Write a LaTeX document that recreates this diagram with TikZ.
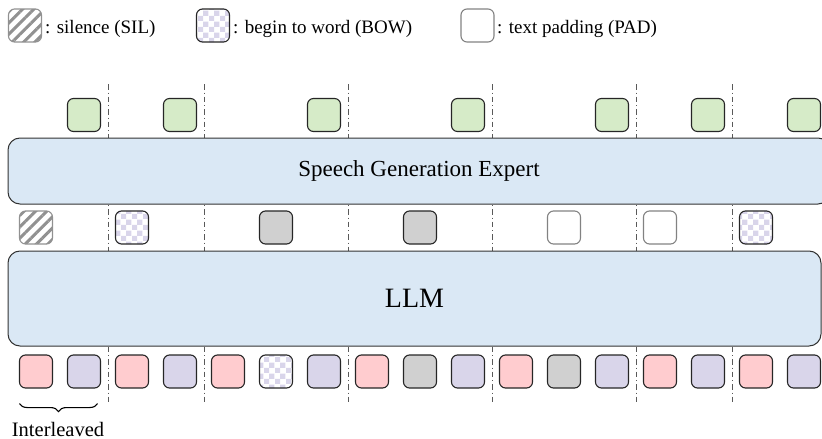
\documentclass[tikz,border=0pt]{standalone}
\usepackage{fontspec}
\setmainfont{Liberation Serif}
\usetikzlibrary{patterns.meta,decorations.pathreplacing}

\definecolor{llmblue}{RGB}{218,232,245}
\definecolor{tokpink}{RGB}{255,204,207}
\definecolor{tokpurple}{RGB}{217,213,234}
\definecolor{tokgray}{RGB}{208,208,208}
\definecolor{tokgreen}{RGB}{214,235,200}
\definecolor{silgray}{RGB}{145,145,145}
\definecolor{padgray}{RGB}{130,130,130}

\tikzdeclarepattern{
  name=bowcheck,
  type=uncolored,
  bounding box={(0pt,0pt) and (11pt,11pt)},
  tile size={(11pt,11pt)},
  code={
    \fill (0pt,0pt) rectangle (5.5pt,5.5pt);
    \fill (5.5pt,5.5pt) rectangle (11pt,11pt);
  }
}

\begin{document}
\begin{tikzpicture}[x=1pt,y=-1pt,
  tok/.style={draw=black!85, line width=1.1pt, rounded corners=6pt, minimum width=33pt, minimum height=33pt, inner sep=0pt},
  pinktok/.style={tok, fill=tokpink},
  purpletok/.style={tok, fill=tokpurple},
  graytok/.style={tok, fill=tokgray},
  greentok/.style={tok, fill=tokgreen},
  bowtok/.style={tok, pattern=bowcheck, pattern color=tokpurple},
  siltok/.style={tok, draw=silgray, pattern={Lines[angle=45,distance=8pt,line width=3pt]}, pattern color=silgray},
  padtok/.style={tok, draw=padgray},
  bigbox/.style={draw=black!80, fill=llmblue, line width=1pt, rounded corners=12pt, inner sep=0pt},
  divider/.style={draw=black!65, line width=0.9pt, dash pattern=on 5.5pt off 3pt on 1pt off 3pt},
  legtext/.style={anchor=base west, inner sep=0pt, font=\fontsize{19}{22}\selectfont}]
\useasboundingbox (0,0) rectangle (822,439);

% legend
\node[siltok] (legsil) at (25,25.5) {};
\node[legtext] (legsiltext) at (45,33) {: silence (SIL)};
\node[bowtok] (legbow) at (213,25.5) {};
\node[legtext] (legbowtext) at (233,33) {: begin to word (BOW)};
\node[padtok] (legpad) at (477.5,25.5) {};
\node[legtext] (legpadtext) at (497,33) {: text padding (PAD)};

% chunk dividers
\draw[divider] (108,84) -- (108,404);
\draw[divider] (204,84) -- (204,404);
\draw[divider] (348,84) -- (348,404);
\draw[divider] (492,84) -- (492,404);
\draw[divider] (636,84) -- (636,404);
\draw[divider] (732,84) -- (732,404);

% speech tokens out
\node[greentok] (g0) at (84,115) {};
\node[greentok] (g1) at (180,115) {};
\node[greentok] (g2) at (324,115) {};
\node[greentok] (g3) at (468,115) {};
\node[greentok] (g4) at (612,115) {};
\node[greentok] (g5) at (708,115) {};
\node[greentok] (g6) at (804,115) {};

\node[bigbox, minimum width=822pt, minimum height=66pt, font=\fontsize{23}{27}\selectfont] (sge) at (419,171) {Speech Generation Expert};

% llm outputs
\node[siltok] (m0) at (36,227.5) {};
\node[bowtok] (m1) at (132,227.5) {};
\node[graytok] (m2) at (276,227.5) {};
\node[graytok] (m3) at (420,227.5) {};
\node[padtok] (m4) at (564,227.5) {};
\node[padtok] (m5) at (660,227.5) {};
\node[bowtok] (m6) at (756,227.5) {};

\node[bigbox, minimum width=813pt, minimum height=95pt, font=\fontsize{28}{32}\selectfont] (llm) at (414.5,298.5) {LLM};

% interleaved input
\node[pinktok] (b0) at (36,371.5) {};
\node[purpletok] (b1) at (84,371.5) {};
\node[pinktok] (b2) at (132,371.5) {};
\node[purpletok] (b3) at (180,371.5) {};
\node[pinktok] (b4) at (228,371.5) {};
\node[bowtok] (b5) at (276,371.5) {};
\node[purpletok] (b6) at (324,371.5) {};
\node[pinktok] (b7) at (372,371.5) {};
\node[graytok] (b8) at (420,371.5) {};
\node[purpletok] (b9) at (468,371.5) {};
\node[pinktok] (b10) at (516,371.5) {};
\node[graytok] (b11) at (564,371.5) {};
\node[purpletok] (b12) at (612,371.5) {};
\node[pinktok] (b13) at (660,371.5) {};
\node[purpletok] (b14) at (708,371.5) {};
\node[pinktok] (b15) at (756,371.5) {};
\node[purpletok] (b16) at (804,371.5) {};

\draw[line width=1.1pt, decorate, decoration={brace, mirror, amplitude=8pt}] ([xshift=0.5pt,yshift=-15pt]b0.south west) -- ([xshift=-3.5pt,yshift=-15pt]b1.south east);
\node[anchor=base, inner sep=0pt, font=\fontsize{20.5}{24}\selectfont] (ilv) at (58,436) {Interleaved};
\end{tikzpicture}
\end{document}
